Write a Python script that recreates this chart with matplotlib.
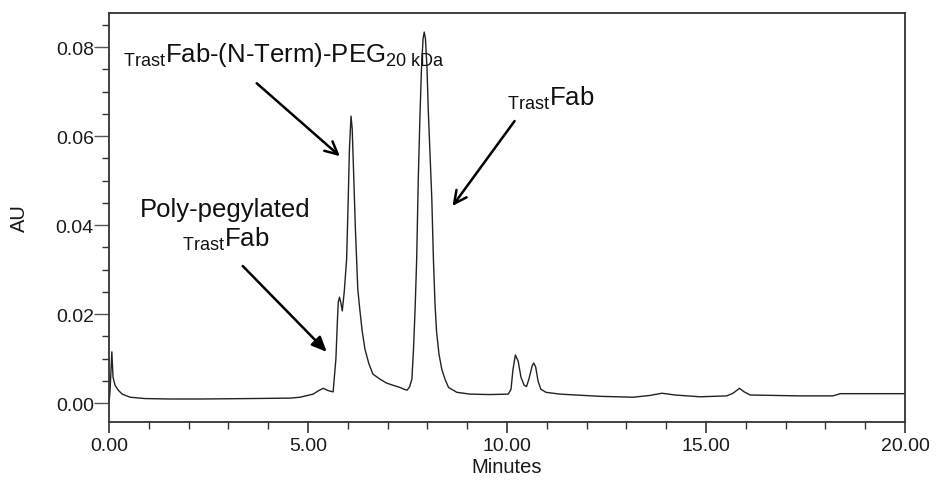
import matplotlib
matplotlib.use("Agg")
import matplotlib.pyplot as plt

plt.rcParams['font.family'] = ['Liberation Sans', 'DejaVu Sans']
plt.rcParams['mathtext.fontset'] = 'custom'
plt.rcParams['mathtext.rm'] = 'Liberation Sans'
plt.rcParams['mathtext.it'] = 'Liberation Sans:italic'
plt.rcParams['mathtext.bf'] = 'Liberation Sans:bold'

# chromatogram trace (minutes, AU)
minutes = [0.00, 0.025, 0.07, 0.10, 0.15, 0.23, 0.33, 0.53, 0.90, 1.53, 2.29, 3.54,
           4.55, 4.80, 5.13, 5.25, 5.38, 5.50, 5.63, 5.70, 5.74, 5.76, 5.79, 5.83,
           5.86, 5.91, 5.97, 6.01, 6.04, 6.08, 6.11, 6.15, 6.19, 6.22, 6.25, 6.30,
           6.36, 6.43, 6.53, 6.63, 6.80, 6.97, 7.13, 7.31, 7.44, 7.49, 7.55, 7.61,
           7.65, 7.69, 7.73, 7.77, 7.81, 7.85, 7.89, 7.92, 7.95, 7.99, 8.02, 8.06,
           8.11, 8.15, 8.19, 8.23, 8.29, 8.36, 8.44, 8.53, 8.74, 9.07, 9.57, 10.03,
           10.10, 10.15, 10.21, 10.28, 10.35, 10.43, 10.49, 10.55, 10.63, 10.67, 10.72,
           10.78, 10.85, 10.98, 11.33, 12.34, 13.17, 13.59, 13.89, 14.22, 14.85, 15.52,
           15.68, 15.84, 15.96, 16.11, 17.36, 18.19, 18.37, 19.12, 20.00]
au = [0.0000, 0.0027, 0.0115, 0.0058, 0.0040, 0.0029, 0.0020, 0.0013, 0.0010, 0.0009,
      0.0009, 0.0010, 0.0011, 0.0013, 0.0020, 0.0027, 0.0033, 0.0028, 0.0025, 0.0099,
      0.0189, 0.0227, 0.0238, 0.0223, 0.0207, 0.0250, 0.0324, 0.0459, 0.0571, 0.0645,
      0.0616, 0.0504, 0.0391, 0.0324, 0.0256, 0.0211, 0.0162, 0.0121, 0.0088, 0.0065,
      0.0054, 0.0045, 0.0040, 0.0035, 0.0030, 0.0029, 0.0036, 0.0054, 0.0121, 0.0211,
      0.0324, 0.0504, 0.0639, 0.0751, 0.0819, 0.0834, 0.0819, 0.0751, 0.0661, 0.0571,
      0.0459, 0.0324, 0.0223, 0.0160, 0.0110, 0.0076, 0.0054, 0.0035, 0.0024, 0.0020,
      0.0019, 0.0020, 0.0031, 0.0076, 0.0108, 0.0094, 0.0058, 0.0040, 0.0037, 0.0054,
      0.0083, 0.0090, 0.0081, 0.0049, 0.0031, 0.0024, 0.0020, 0.0015, 0.0013, 0.0017,
      0.0022, 0.0018, 0.0014, 0.0016, 0.0022, 0.0033, 0.0025, 0.0018, 0.0016, 0.0016,
      0.0021, 0.0021, 0.0021]

x_major = [0, 5, 10, 15, 20]
x_labels = ["0.00", "5.00", "10.00", "15.00", "20.00"]
y_major = [0.00, 0.02, 0.04, 0.06, 0.08]
y_labels = ["0.00", "0.02", "0.04", "0.06", "0.08"]

fig = plt.figure(figsize=(9.36, 4.81), dpi=100)
ax = fig.add_axes([0.1165, 0.1216, 0.8504, 0.8494])

ax.plot(minutes, au, color='#222222', lw=1.0)

ax.set_xlim(0, 20)
ax.set_ylim(-0.00416, 0.0877)

ax.set_xticks(x_major)
ax.set_xticklabels(x_labels)
ax.set_xticks([i for i in range(21) if i % 5 != 0], minor=True)
ax.set_yticks(y_major)
ax.set_yticklabels(y_labels)
ax.set_yticks([0.005, 0.010, 0.015, 0.025, 0.030, 0.035, 0.045, 0.050, 0.055,
               0.065, 0.070, 0.075, 0.085], minor=True)

ax.tick_params(axis='x', which='major', length=8, width=1.2, color='#333333',
               labelsize=14, pad=3, labelcolor='#1a1a1a')
ax.tick_params(axis='x', which='minor', length=5, width=1.0, color='#333333')
ax.tick_params(axis='y', which='major', length=11, width=1.0, color='#555555',
               labelsize=14, pad=0, labelcolor='#1a1a1a')
ax.tick_params(axis='y', which='minor', length=5, width=1.0, color='#333333')

for s in ax.spines.values():
    s.set_color('#333333')
    s.set_linewidth(1.3)

ax.set_xlabel("Minutes", fontsize=14.5, color='#1a1a1a', labelpad=2)
ax.set_ylabel("AU", fontsize=14.5, color='#1a1a1a', labelpad=19)

fs = 18.5
ax.text(0.35, 0.0768, r"$_{\mathrm{Trast}}$Fab-(N-Term)-PEG$_{\mathrm{20\ kDa}}$",
        fontsize=fs, ha='left', va='baseline', color='#111111')
ax.text(10.0, 0.0670, r"$_{\mathrm{Trast}}$Fab", fontsize=fs, ha='left',
        va='baseline', color='#111111')
ax.text(2.91, 0.0421, "Poly-pegylated", fontsize=fs, ha='center', va='baseline',
        color='#111111')
ax.text(2.92, 0.0353, r"$_{\mathrm{Trast}}$Fab", fontsize=fs, ha='center',
        va='baseline', color='#111111')

open_arrow = dict(arrowstyle='->,head_length=0.9,head_width=0.45', lw=1.8,
                  color='black', shrinkA=0, shrinkB=0)
ax.annotate("", xy=(5.80, 0.0555), xytext=(3.71, 0.0719), arrowprops=open_arrow)
ax.annotate("", xy=(8.63, 0.0443), xytext=(10.19, 0.0634), arrowprops=open_arrow)
ax.annotate("", xy=(5.47, 0.0115), xytext=(3.36, 0.0308),
            arrowprops=dict(arrowstyle='-|>,head_length=0.9,head_width=0.4', lw=1.8,
                            color='black', shrinkA=0, shrinkB=0))

fig.savefig("out.png", dpi=100)
